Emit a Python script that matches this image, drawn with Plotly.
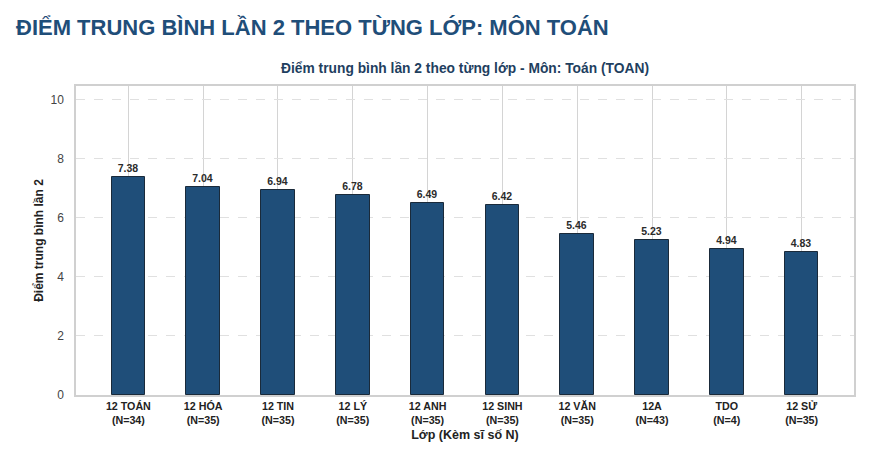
import plotly.graph_objects as go

classes = ["12 TOÁN", "12 HÓA", "12 TIN", "12 LÝ", "12 ANH",
           "12 SINH", "12 VĂN", "12A", "TDO", "12 SỬ"]
counts = [34, 35, 35, 35, 35, 35, 35, 43, 4, 35]
means = [7.38, 7.04, 6.94, 6.78, 6.49, 6.42, 5.46, 5.23, 4.94, 4.83]

labels = [f"{c}<br>(N={n})" for c, n in zip(classes, counts)]
xs = list(range(len(classes)))

fig = go.Figure()
fig.add_trace(go.Bar(
    x=xs, y=means, width=0.45,
    marker=dict(color="#1f4e79", line=dict(color="#1a2a3a", width=1)),
    text=[f"{v:.2f}" for v in means], textposition="outside",
    textfont=dict(family="Liberation Sans", size=10.5, color="#2b2b2b"),
    texttemplate="<b>%{text}</b>", cliponaxis=False,
))

# page body has an 8px margin, so the figure is 8px smaller and shifted
fig.update_layout(
    width=878, height=450,
    margin=dict(l=68, r=32, t=78, b=63, autoexpand=False),
    paper_bgcolor="white", plot_bgcolor="white",
    font=dict(family="Liberation Sans", color="#333"),
    showlegend=False, bargap=0,
    annotations=[
        dict(text="<b>ĐIỂM TRUNG BÌNH LẦN 2 THEO TỪNG LỚP: MÔN TOÁN</b>",
             xref="paper", yref="paper", x=-0.0797, y=1.188, xanchor="left", yanchor="middle",
             showarrow=False, font=dict(family="Liberation Sans Narrow, Liberation Sans", size=22, color="#1f4e79")),
        dict(text="<b>Điểm trung bình lần 2 theo từng lớp - Môn: Toán (TOAN)</b>",
             xref="paper", yref="paper", x=0.5, y=1.058, xanchor="center", yanchor="middle",
             showarrow=False, font=dict(family="Liberation Sans", size=13.8, color="#1f3f5f")),
    ],
)
fig.update_xaxes(
    tickvals=xs, ticktext=[f"<b>{t}</b>" for t in labels], range=[-0.7, 9.7],
    tickfont=dict(size=10.7, color="#222"), automargin=False,
    showgrid=True, gridcolor="#d4d4d4", gridwidth=1,
    showline=True, linecolor="#d0d0d0", mirror=True, linewidth=1.5,
    ticks="", zeroline=False,
    title=dict(text="<b>Lớp (Kèm sĩ số N)</b>", font=dict(size=12.5, color="#222"), standoff=6),
)
fig.update_yaxes(
    range=[0, 10.45], tickvals=[0, 2, 4, 6, 8, 10],
    tickfont=dict(size=12, color="#444"), automargin=False,
    showgrid=True, gridcolor="#e0e0e0", griddash="dash", gridwidth=1,
    showline=True, linecolor="#d0d0d0", mirror=True, linewidth=1.5,
    zeroline=False, ticks="", ticklabelstandoff=8,
    title=dict(text="<b>Điểm trung bình lần 2</b>", font=dict(size=12, color="#222"), standoff=4),
)

fig.write_html("out.html")
